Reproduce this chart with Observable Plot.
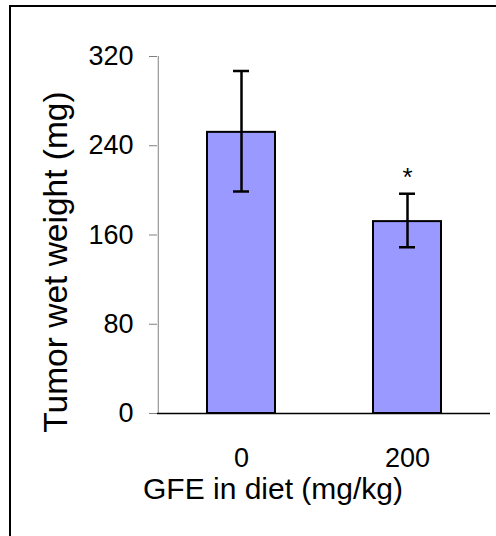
<!DOCTYPE html>
<html>
<head>
<meta charset="utf-8">
<script src="https://cdn.jsdelivr.net/npm/d3@7"></script>
<script src="https://cdn.jsdelivr.net/npm/@observablehq/plot@0.6"></script>
<style>
  html, body { margin: 0; padding: 0; background: #fff; }
  #wrap { position: relative; width: 496px; height: 536px; overflow: hidden; }
  #border { position: absolute; left: 9px; top: 5px; right: -4px; bottom: -4px; border-top: 2px solid #000; border-left: 2px solid #000; }
  #chart { position: absolute; left: 0; top: 0; }
</style>
</head>
<body>
<div id="wrap"><div id="border"></div><div id="chart"></div></div>
<script>
const groups = ["0", "200"];
const means = [252, 172];
const lower = [199, 149];
const upper = [307, 197];
const sigMarks = ["", "*"];
const yTicks = [0, 80, 160, 240, 320];
const xTitle = "GFE in diet (mg/kg)";
const yTitle = "Tumor wet weight (mg)";

const data = groups.map((g, i) => ({g, mean: means[i], lo: lower[i], hi: upper[i], mark: sigMarks[i]}));

const W = 496, ML = 157, MR = 6;
const halfStep = (W - ML - MR) / groups.length / 2;

const chart = Plot.plot({
  width: W,
  height: 536,
  marginTop: 56,
  marginBottom: 123,
  marginLeft: ML,
  marginRight: MR,
  style: {fontFamily: "'Liberation Sans', Arial, sans-serif", fontSize: "27px", color: "black", background: "transparent"},
  x: {domain: groups, padding: 0, label: null},
  y: {domain: [0, 320], ticks: yTicks, label: null},
  marks: [
    Plot.barY(data, {x: "g", y: "mean", fill: "#9999ff", stroke: "black", strokeWidth: 2, insetLeft: 49, insetRight: 49}),
    Plot.ruleX(data, {x: "g", y1: "lo", y2: "hi", stroke: "black", strokeWidth: 2.5}),
    Plot.tickY(data, {x: "g", y: "lo", stroke: "black", strokeWidth: 2.5, insetLeft: 75, insetRight: 75}),
    Plot.tickY(data, {x: "g", y: "hi", stroke: "black", strokeWidth: 2.5, insetLeft: 75, insetRight: 75}),
    Plot.text(data, {x: "g", y: "hi", text: "mark", dy: -16, fontSize: 26, fill: "black"}),
    Plot.axisY({ticks: yTicks, tickSize: 8, tickPadding: 16, stroke: "#808080", fill: "black", tickFormat: d => String(d), fontSize: 27, label: null}),
    Plot.ruleX([groups[0]], {y1: 0, y2: 320, dx: -halfStep, stroke: "#808080", strokeWidth: 1}),
    Plot.axisX({tickSize: 0, tickPadding: 34, label: null, fontSize: 27, fill: "black"}),
    Plot.ruleY([0], {stroke: "black", strokeWidth: 1.5}),
    Plot.text([xTitle], {frameAnchor: "bottom", dy: 85, dx: -51, fontSize: 30, fill: "black"}),
    Plot.text([yTitle], {frameAnchor: "left", textAnchor: "middle", rotate: -90, dx: -101, dy: 27, fontSize: 33.5, fill: "black"})
  ]
});
document.getElementById("chart").appendChild(chart);
</script>
</body>
</html>
